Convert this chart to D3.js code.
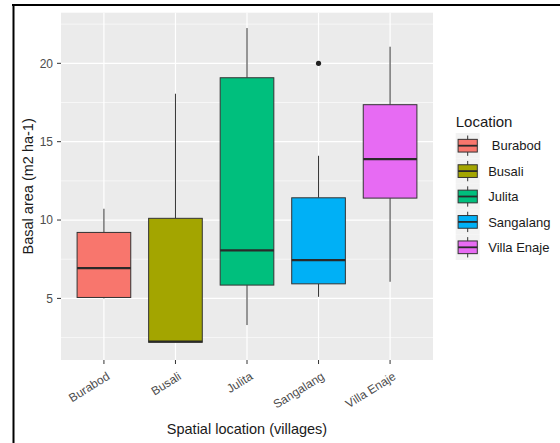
<!DOCTYPE html>
<html>
<head>
<meta charset="utf-8">
<script src="https://cdn.jsdelivr.net/npm/d3@7"></script>
<style>
  html, body { margin: 0; padding: 0; background: #fff; }
  svg { display: block; font-family: "Liberation Sans", Arial, sans-serif; }
</style>
</head>
<body>
<svg id="chart" width="560" height="443"></svg>
<script>
// Basal area per village: five-number summaries plus outliers
const categories   = ["Burabod", "Busali", "Julita", "Sangalang", "Villa Enaje"];
const legendLabels = [" Burabod", "Busali", "Julita", "Sangalang", "Villa Enaje"];
const whiskerLow   = [5.0, 2.2, 3.3, 5.1, 6.06];
const q1           = [5.06, 2.2, 5.85, 5.93, 11.4];
const medians      = [6.93, 2.25, 8.06, 7.44, 13.89];
const q3           = [9.21, 10.11, 19.08, 11.42, 17.36];
const whiskerHigh  = [10.72, 18.06, 22.25, 14.1, 21.06];
const outliers     = [[], [], [], [20.0], []];
const colors       = ["#F8766D", "#A3A500", "#00BF7D", "#00B0F6", "#E76BF3"];
const majorTicks   = [5, 10, 15, 20];
const minorTicks   = [2.5, 7.5, 12.5, 17.5, 22.5];
const yLimits      = [1.07, 23.23];

const svg = d3.select("#chart");
const panel = { left: 61, top: 12.7, right: 433, bottom: 360 };

// Outer frame (top and left edges)
svg.append("line").attr("x1", 12).attr("x2", 560).attr("y1", 5).attr("y2", 5)
  .attr("stroke", "#000").attr("stroke-width", 2.2);
svg.append("line").attr("x1", 13.5).attr("x2", 13.5).attr("y1", 4).attr("y2", 443)
  .attr("stroke", "#000").attr("stroke-width", 2);

// Discrete axis: 0.6 band expansion on each side
const x = d3.scalePoint().domain(categories)
  .range([panel.left, panel.right]).padding(0.6);
const bw = x.step();
const cx = c => x(c);

const y = d3.scaleLinear().domain(yLimits).range([panel.bottom, panel.top]);

// Panel background and grid
svg.append("rect").attr("x", panel.left).attr("y", panel.top)
  .attr("width", panel.right - panel.left).attr("height", panel.bottom - panel.top)
  .attr("fill", "#EBEBEB");
const g = svg.append("g");
g.selectAll(".minor").data(minorTicks).join("line")
  .attr("x1", panel.left).attr("x2", panel.right)
  .attr("y1", d => y(d)).attr("y2", d => y(d))
  .attr("stroke", "#fff").attr("stroke-width", 0.6);
g.selectAll(".major").data(majorTicks).join("line")
  .attr("x1", panel.left).attr("x2", panel.right)
  .attr("y1", d => y(d)).attr("y2", d => y(d))
  .attr("stroke", "#fff").attr("stroke-width", 1.2);
g.selectAll(".vgrid").data(categories).join("line")
  .attr("x1", d => cx(d)).attr("x2", d => cx(d))
  .attr("y1", panel.top).attr("y2", panel.bottom)
  .attr("stroke", "#fff").attr("stroke-width", 1.2);

// Boxplots
const boxW = bw * 0.75;
const boxes = svg.append("g").selectAll("g").data(categories).join("g");
boxes.append("line")
  .attr("x1", d => cx(d)).attr("x2", d => cx(d))
  .attr("y1", (d, i) => y(q3[i])).attr("y2", (d, i) => y(whiskerHigh[i]))
  .attr("stroke", "#333").attr("stroke-width", 1);
boxes.append("line")
  .attr("x1", d => cx(d)).attr("x2", d => cx(d))
  .attr("y1", (d, i) => y(q1[i])).attr("y2", (d, i) => y(whiskerLow[i]))
  .attr("stroke", "#333").attr("stroke-width", 1);
boxes.append("rect")
  .attr("x", d => cx(d) - boxW / 2).attr("width", boxW)
  .attr("y", (d, i) => y(q3[i])).attr("height", (d, i) => y(q1[i]) - y(q3[i]))
  .attr("fill", (d, i) => colors[i]).attr("stroke", "#333").attr("stroke-width", 1);
boxes.append("line")
  .attr("x1", d => cx(d) - boxW / 2).attr("x2", d => cx(d) + boxW / 2)
  .attr("y1", (d, i) => y(medians[i])).attr("y2", (d, i) => y(medians[i]))
  .attr("stroke", "#2a2a2a").attr("stroke-width", 2.2);
boxes.each(function (d, i) {
  d3.select(this).selectAll("circle").data(outliers[i]).join("circle")
    .attr("cx", cx(d)).attr("cy", v => y(v)).attr("r", 2.6).attr("fill", "#222");
});

// Y axis
const yAxis = svg.append("g");
yAxis.selectAll("line").data(majorTicks).join("line")
  .attr("x1", panel.left - 4).attr("x2", panel.left)
  .attr("y1", d => y(d)).attr("y2", d => y(d))
  .attr("stroke", "#333").attr("stroke-width", 1);
yAxis.selectAll("text").data(majorTicks).join("text")
  .attr("x", panel.left - 8).attr("y", d => y(d)).attr("dy", "0.36em")
  .attr("text-anchor", "end").attr("font-size", 12).attr("fill", "#4D4D4D")
  .text(d => d);

// X axis
const xAxis = svg.append("g");
xAxis.selectAll("line").data(categories).join("line")
  .attr("x1", d => cx(d)).attr("x2", d => cx(d))
  .attr("y1", panel.bottom).attr("y2", panel.bottom + 4)
  .attr("stroke", "#333").attr("stroke-width", 1);
xAxis.selectAll("text").data(categories).join("text")
  .attr("transform", d => `translate(${cx(d) + 2},${panel.bottom + 11}) rotate(-32)`)
  .attr("text-anchor", "end").attr("dominant-baseline", "hanging")
  .attr("font-size", 12).attr("fill", "#4D4D4D")
  .text(d => d);

// Axis titles
svg.append("text")
  .attr("transform", `translate(33,${(panel.top + panel.bottom) / 2}) rotate(-90)`)
  .attr("text-anchor", "middle").attr("font-size", 14.5).attr("fill", "#1a1a1a")
  .text("Basal area (m2 ha-1)");
svg.append("text")
  .attr("x", (panel.left + panel.right) / 2).attr("y", 434)
  .attr("text-anchor", "middle").attr("font-size", 14.5).attr("fill", "#1a1a1a")
  .text("Spatial location (villages)");

// Legend
const legend = svg.append("g").attr("transform", "translate(455.7,133)");
legend.append("text").attr("x", 0).attr("y", -6)
  .attr("font-size", 15).attr("fill", "#1a1a1a").text("Location");
const keyW = 24, keyH = 25.4;
const keys = legend.selectAll("g.key").data(categories).join("g")
  .attr("transform", (d, i) => `translate(0,${i * keyH})`);
keys.append("rect").attr("width", keyW).attr("height", keyH).attr("fill", "#F2F2F2");
keys.append("line").attr("x1", keyW / 2).attr("x2", keyW / 2)
  .attr("y1", keyH * 0.1).attr("y2", keyH * 0.9).attr("stroke", "#333");
keys.append("rect")
  .attr("x", keyW * 0.1).attr("width", keyW * 0.8)
  .attr("y", keyH * 0.25).attr("height", keyH * 0.5)
  .attr("fill", (d, i) => colors[i]).attr("stroke", "#333");
keys.append("line").attr("x1", keyW * 0.1).attr("x2", keyW * 0.9)
  .attr("y1", keyH / 2).attr("y2", keyH / 2).attr("stroke", "#2a2a2a").attr("stroke-width", 1.8);
keys.append("text")
  .attr("x", keyW + 8.5).attr("y", keyH / 2).attr("dy", "0.36em")
  .attr("font-size", 13).attr("fill", "#1a1a1a")
  .style("white-space", "pre")
  .text((d, i) => legendLabels[i]);
</script>
</body>
</html>
